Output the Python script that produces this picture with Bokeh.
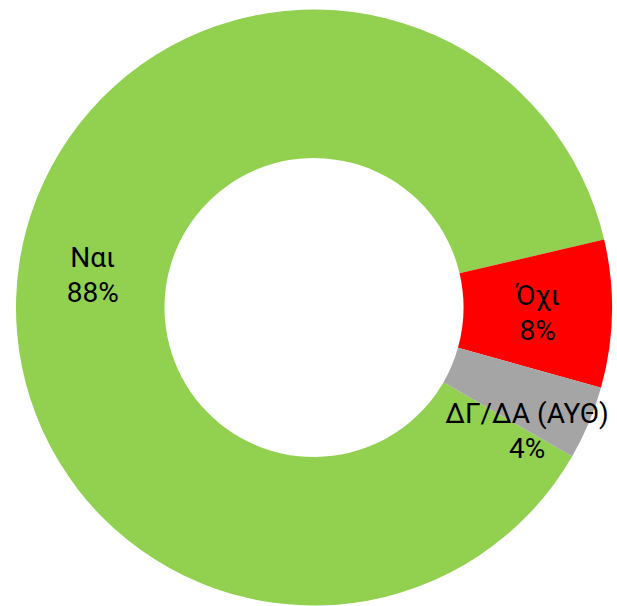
import math
from bokeh.plotting import figure
from bokeh.models import Range1d, ColumnDataSource
from bokeh.core.properties import value
from bokeh.embed import file_html
from bokeh.resources import INLINE

# data
categories = ["Ναι", "Όχι", "ΔΓ/ΔΑ (ΑΥΘ)"]
percents = [88, 8, 4]
colors = ["#92D050", "#FF0000", "#A5A5A5"]

W, H = 617, 606
p = figure(width=W, height=H, output_backend="svg", toolbar_location=None,
           x_range=Range1d(0, W), y_range=Range1d(0, H), min_border=0)
p.axis.visible = False
p.grid.visible = False
p.outline_line_color = None
p.background_fill_color = "white"

cx, cy = 313.5, 299.0
r_out, r_in = 298, 149.5
first_angle = 120.0  # degrees clockwise from 12 o'clock

starts, ends, mids = [], [], []
acc = first_angle
total = sum(percents)
for v in percents:
    a0 = acc
    a1 = acc + v / total * 360.0
    starts.append(math.radians(90 - a0))
    ends.append(math.radians(90 - a1))
    mids.append(math.radians(90 - (a0 + a1) / 2))
    acc = a1

src = ColumnDataSource(dict(x=[cx] * 3, y=[cy] * 3, start=starts, end=ends, color=colors))
p.annular_wedge(x="x", y="y", inner_radius=r_in, outer_radius=r_out,
                inner_radius_units="screen", outer_radius_units="screen",
                start_angle="start", end_angle="end", direction="clock",
                fill_color="color", line_color=None, source=src)

# label anchors: mid-ring for first two, moved outward for the small slice
label_r = [(r_in + r_out) / 2, (r_in + r_out) / 2, 246]
label_ang = [mids[0], mids[1], math.radians(-30)]
lx = [cx + r * math.cos(a) for r, a in zip(label_r, label_ang)]
ly = [cy + r * math.sin(a) for r, a in zip(label_r, label_ang)]
pct_txt = [f"{v}%" for v in percents]

font = value("Roboto")
p.text(x=lx, y=[y + 17 for y in ly], text=categories, text_align="center",
       text_baseline="middle", text_font=font, text_font_size="28px", text_color="black")
p.text(x=lx, y=[y - 18 for y in ly], text=pct_txt, text_align="center",
       text_baseline="middle", text_font=font, text_font_size="28px", text_color="black")

open("out.html", "w").write(file_html(p, INLINE))
